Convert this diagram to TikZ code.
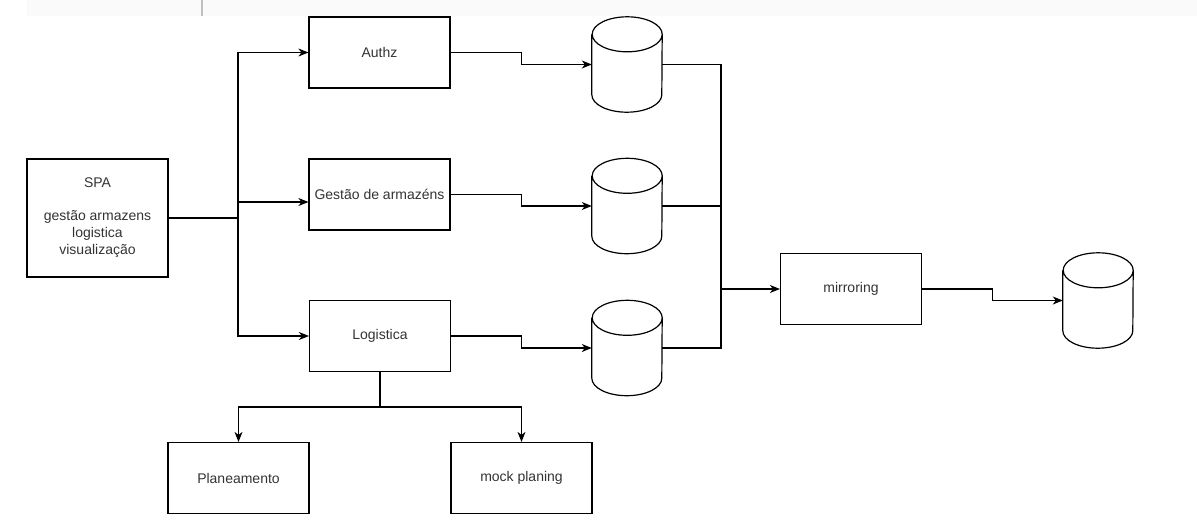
\documentclass[tikz,border=0pt]{standalone}
\usepackage{fontspec}
\setmainfont{Liberation Sans}
\usetikzlibrary{arrows.meta}
\usetikzlibrary{calc}

\newcommand{\drawdb}[1]{%
\draw[dbline] ([yshift=-17.5pt]#1.north west) -- ([yshift=17.5pt]#1.south west)
arc[start angle=180,end angle=360,x radius=35pt,y radius=17.5pt]
-- ([yshift=-17.5pt]#1.north east)
arc[start angle=0,end angle=180,x radius=35pt,y radius=17.5pt]
arc[start angle=180,end angle=360,x radius=35pt,y radius=17.5pt];}

\begin{document}
\begin{tikzpicture}[x=1pt,y=-1pt,
box/.style={draw=black,line width=1.2pt,minimum width=141pt,minimum height=71pt,
inner sep=0pt,align=center,font=\fontsize{14}{17}\selectfont,text=black!80},
db/.style={minimum width=70pt,minimum height=95pt,inner sep=0pt},
dbline/.style={line width=1.2pt},
link/.style={line width=1.2pt,-{Stealth[length=10pt,width=8pt,inset=3pt]}},
plain/.style={line width=1.2pt}]

\useasboundingbox (0,0) rectangle (1197,525);
\fill[black!2] (27,0) rectangle (1197,16);
\draw[black!25,line width=1.5pt] (202,0) -- (202,16);

\node[box,minimum height=118pt] (spa) at (97.5,218)
{SPA\\[16pt]gestão armazens\\logistica\\visualização};
\node[box] (authz) at (379.5,52.5) {Authz};
\node[box] (gestao) at (379.5,194.5) {Gestão de armazéns};
\node[box] (logistica) at (380,336) {Logistica};
\node[box] (planeamento) at (238.5,478) {Planeamento};
\node[box] (mock) at (521.5,478) {mock planing};
\node[box] (mirroring) at (851,289) {mirroring};

\node[db] (db1) at (627,64.5) {};
\node[db] (db2) at (627,206) {};
\node[db] (db3) at (627,348) {};
\node[db] (db4) at (1098,300.5) {};
\drawdb{db1}
\drawdb{db2}
\drawdb{db3}
\drawdb{db4}

\coordinate (split) at (238,218);
\draw[plain] (spa.east) -- (split);
\draw[link] (split) |- (authz.west);
\draw[link] (split) |- ([yshift=-7.5pt]gestao.west);
\draw[link] (split) |- (logistica.west);

\draw[link] (authz.east) -| ($(authz.east)!.5!(db1.west)$) |- (db1.west);
\draw[link] (gestao.east) -| ($(gestao.east)!.5!(db2.west)$) |- (db2.west);
\draw[link] (logistica.east) -| ($(logistica.east)!.5!(db3.west)$) |- (db3.west);

\coordinate (merge) at (721,289);
\draw[plain] (db1.east) -| (merge);
\draw[plain] (db2.east) -| (merge);
\draw[plain] (db3.east) -| (merge);
\draw[link] (merge) -- (mirroring.west);
\draw[link] (mirroring.east) -| ($(mirroring.east)!.5!(db4.west)$) |- (db4.west);

\coordinate (fork) at (380,407);
\draw[plain] (logistica.south) -- (fork);
\draw[link] (fork) -| (planeamento.north);
\draw[link] (fork) -| (mock.north);
\end{tikzpicture}
\end{document}
